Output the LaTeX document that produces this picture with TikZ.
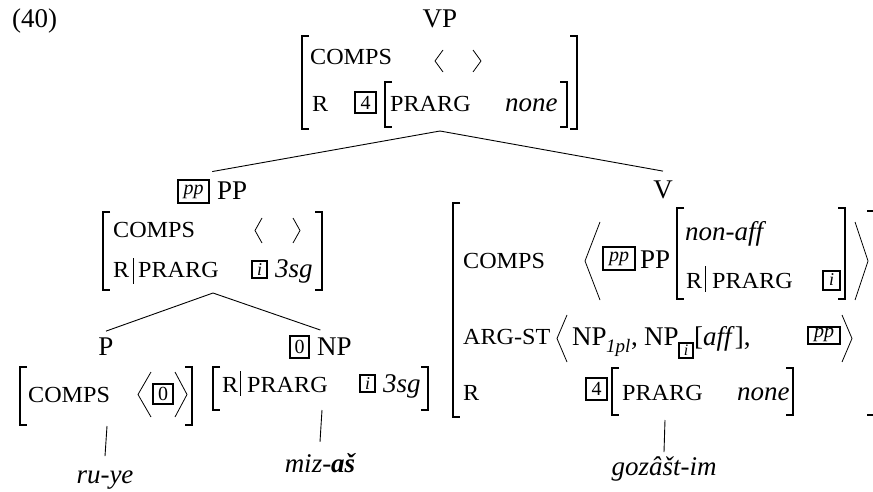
\documentclass[tikz,border=0pt]{standalone}
\usepackage{fontspec}
\setmainfont{Liberation Serif}
\newfontfamily\featfont[FakeStretch=1.05]{Liberation Serif}
\usepackage{tikz}
\usetikzlibrary{calc, positioning}

% brackets: x, top y, bottom y
\newcommand{\lbr}[3]{\draw[brak] (#1+7,#2) -- (#1,#2) -- (#1,#3) -- (#1+7,#3);}
\newcommand{\rbr}[3]{\draw[brak] (#1-7,#2) -- (#1,#2) -- (#1,#3) -- (#1-7,#3);}
% angle: tip x, open x, top y, bottom y
\newcommand{\angl}[4]{\draw[angl] (#2,#3) -- (#1,{(#3+#4)/2}) -- (#2,#4);}

\begin{document}
\begin{tikzpicture}[x=1pt, y=-1pt,
  every node/.style={inner sep=0pt},
  cat/.style={anchor=base, font=\fontsize{27}{30}\selectfont},
  feat/.style={anchor=base west, font=\featfont\fontsize{23}{25}\selectfont},
  val/.style={anchor=base west, font=\fontsize{27}{30}\selectfont\itshape},
  tagbox/.style={draw, line width=2pt, font=\fontsize{20}{20}\selectfont},
  brak/.style={line width=1.1pt},
  angl/.style={line width=0.8pt},
  branch/.style={line width=0.9pt}]

\useasboundingbox (0,0) rectangle (873,492);

\node[cat, anchor=base west] (ex) at (12,28) {(40)};

%//mother VP
\node[cat] (vp) at (440,28) {VP};
\lbr{302}{36}{129}
\rbr{577}{36}{129}
\node[feat] (vpcomps) at (310,65) {COMPS};
\angl{435}{443}{50}{72}
\angl{481}{473}{50}{72}
\node[feat] (vpr) at (312,112) {R};
\node[tagbox, minimum width=21pt, minimum height=21pt] (vptag) at (365.5,102.5) {4};
\lbr{385}{82}{127}
\rbr{567}{82}{127}
\node[feat] (vpprarg) at (390,112) {PRARG};
\node[val] (vpnone) at (505,112) {none};
\coordinate (vpavm) at (440,131);

%//PP daughter
\node[tagbox, minimum width=31pt, minimum height=23pt, font=\fontsize{20}{20}\selectfont\itshape] (pptag) at (193.5,191.5) {pp};
\node[cat, anchor=base west] (pp) at (217,200) {PP};
\lbr{103}{212}{290}
\rbr{322}{212}{290}
\node[feat] (ppcomps) at (113,237) {COMPS};
\angl{255}{262}{218}{243}
\angl{300}{293}{218}{243}
\node[feat] (ppr) at (113,277) {R};
\draw[angl] (133,258) -- (133,284);
\node[feat] (ppprarg) at (138,277) {PRARG};
\node[tagbox, minimum width=15pt, minimum height=17pt, font=\fontsize{18}{18}\selectfont\itshape] (ppi) at (259.5,269.5) {i};
\node[val] (ppsg) at (275,277) {3sg};
\coordinate (ppavm) at (213,293);

%//P
\node[cat] (p) at (106,355) {P};
\lbr{20}{367}{425}
\rbr{192}{367}{425}
\node[feat] (pcomps) at (28,402) {COMPS};
\angl{138}{151}{372}{417}
\node[tagbox, minimum width=20pt, minimum height=20pt] (ptag) at (163,394) {0};
\angl{187}{175}{372}{417}
\coordinate (pavm) at (107,426);

%//NP
\node[tagbox, minimum width=19pt, minimum height=22pt] (nptag) at (299.5,347) {0};
\node[cat, anchor=base west] (np) at (317,355) {NP};
\lbr{213}{367}{410}
\rbr{428}{367}{410}
\node[feat] (npr) at (222,392) {R};
\draw[angl] (240,371) -- (240,396);
\node[feat] (npprarg) at (247,392) {PRARG};
\node[tagbox, minimum width=15pt, minimum height=17pt, font=\fontsize{18}{18}\selectfont\itshape] (npi) at (367.5,383.5) {i};
\node[val] (npsg) at (383,392) {3sg};
\coordinate (npavm) at (322,410);

%//V
\node[cat] (v) at (663,198) {V};
\lbr{453}{203}{417}
\draw[brak] (867,211) -- (873,211);
\draw[brak] (867,415) -- (873,415);
\foreach \y/\f in {268/COMPS, 344/ARG-ST, 400/R}
  \node[feat] (vf\y) at (463,\y) {\f};
% comps list
\angl{585}{600}{222}{300}
\node[tagbox, minimum width=32pt, minimum height=23pt, font=\fontsize{20}{20}\selectfont\itshape] (vctag) at (619,258.5) {pp};
\node[cat, anchor=base west] (vcpp) at (640,268) {PP};
\lbr{677}{208}{299}
\node[val] (vcaff) at (685,240) {non-aff};
\node[feat] (vcr) at (686,288) {R};
\draw[angl] (705,266) -- (705,292);
\node[feat] (vcprarg) at (712,288) {PRARG};
\node[tagbox, minimum width=17pt, minimum height=19pt, font=\fontsize{18}{18}\selectfont\itshape] (vci) at (831.5,280) {i};
\rbr{845}{208}{299}
\angl{868}{855}{222}{300}
% arg-st list
\angl{557}{567}{315}{362}
\node[cat, anchor=base west] (vanp) at (572,345) {NP};
\node[val, font=\fontsize{19}{19}\selectfont\itshape] (vasub) at (606,352) {1pl};
\node[cat, anchor=base west] (vacomma) at (631,345) {,};
\node[cat, anchor=base west] (vanpb) at (644,345) {NP};
\node[tagbox, minimum width=14pt, minimum height=15pt, font=\fontsize{16}{16}\selectfont\itshape] (vai) at (686,350) {i};
\node[cat, anchor=base west] (vaaff) at (694,345) {[\textit{aff}],};
\node[tagbox, minimum width=32pt, minimum height=17pt, font=\fontsize{20}{20}\selectfont\itshape] (vatag) at (824,335) {pp};
\angl{852}{842}{315}{362}
% r
\node[tagbox, minimum width=21pt, minimum height=22pt] (vrtag) at (596.5,389) {4};
\lbr{612}{368}{415}
\node[feat] (vrprarg) at (622,400) {PRARG};
\node[val] (vrnone) at (737,400) {none};
\rbr{793}{368}{415}
\coordinate (vavm) at (665,420);

%//words
\node[val, anchor=base] (ruye) at (105,483) {ru-ye};
\node[val, anchor=base] (mizas) at (320,472) {miz-\textbf{aš}};
\node[val, anchor=base] (gozast) at (664,475) {gozâšt-im};

%//branches
\draw[branch] (vpavm) -- ($(pptag.north west)!.5!(pp.north east)+(0,-9)$);
\draw[branch] (vpavm) -- ($(v.north)+(0,-9)$);
\draw[branch] (ppavm) -- ($(p.north)+(0,-6)$);
\draw[branch] (ppavm) -- ($(nptag.north west)!.5!(np.north east)+(0,-6)$);
\draw[branch] (pavm) -- ($(ruye.north)+(0,-14)$);
\draw[branch] (npavm) -- ($(mizas.north)+(0,-11)$);
\draw[branch] (vavm) -- ($(gozast.north)+(0,-4)$);
\end{tikzpicture}
\end{document}
